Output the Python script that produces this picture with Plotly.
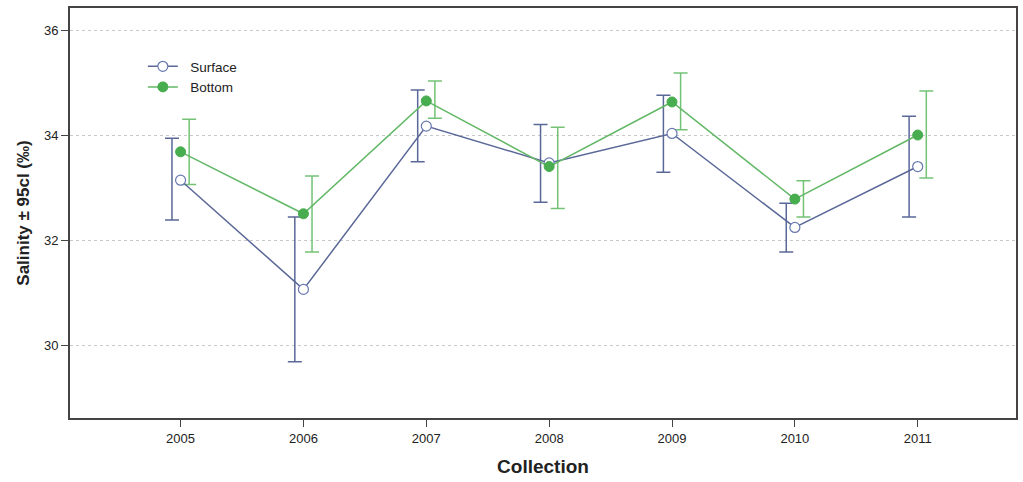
import plotly.graph_objects as go

years = [2005, 2006, 2007, 2008, 2009, 2010, 2011]
surface_mean = [33.14, 31.06, 34.17, 33.47, 34.03, 32.24, 33.40]
surface_hi = [33.94, 32.44, 34.86, 34.20, 34.76, 32.70, 34.36]
surface_lo = [32.38, 29.68, 33.49, 32.72, 33.29, 31.77, 32.44]
bottom_mean = [33.68, 32.50, 34.65, 33.40, 34.63, 32.78, 34.00]
bottom_hi = [34.30, 33.22, 35.03, 34.15, 35.18, 33.13, 34.84]
bottom_lo = [33.06, 31.77, 34.32, 32.60, 34.10, 32.44, 33.18]

S_COL = "#5a6898"
B_COL = "#47ad4f"
B_LINE = "#62b866"
B_ERR = "#74c275"
off = 0.07

fig = go.Figure()

def err_trace(xs, m, hi, lo, col):
    return go.Scatter(
        x=xs, y=m, mode="markers", marker=dict(size=1, opacity=0),
        showlegend=False, hoverinfo="skip",
        error_y=dict(type="data", symmetric=False,
                     array=[h - v for h, v in zip(hi, m)],
                     arrayminus=[v - l for v, l in zip(m, lo)],
                     color=col, thickness=1.5, width=7))

fig.add_trace(err_trace([y - off for y in years], surface_mean, surface_hi, surface_lo, S_COL))
fig.add_trace(err_trace([y + off for y in years], bottom_mean, bottom_hi, bottom_lo, B_ERR))

fig.add_trace(go.Scatter(
    x=years, y=surface_mean, mode="lines+markers", name="  Surface",
    line=dict(color=S_COL, width=1.5),
    marker=dict(symbol="circle", size=10, color="white",
                line=dict(color="#6878b0", width=1.2))))
fig.add_trace(go.Scatter(
    x=years, y=bottom_mean, mode="lines+markers", name="  Bottom",
    line=dict(color=B_LINE, width=1.5),
    marker=dict(symbol="circle", size=10, color=B_COL,
                line=dict(color=B_COL, width=1))))

fig.update_layout(
    width=1023, height=482,
    margin=dict(l=70, r=5, t=8, b=64),
    paper_bgcolor="white", plot_bgcolor="white",
    font=dict(family="Liberation Sans, Arial, sans-serif", size=13, color="#222"),
    showlegend=True,
    legend=dict(x=0.077, y=0.895, xanchor="left", yanchor="top",
                bgcolor="rgba(0,0,0,0)", font=dict(size=13.5, color="#222"),
                tracegroupgap=0),
)
fig.update_xaxes(
    range=[2004.10, 2011.80], tickmode="array", tickvals=years,
    ticktext=[str(y) for y in years],
    showgrid=False, zeroline=False,
    showline=True, linecolor="#444", linewidth=2, mirror=True,
    ticks="outside", ticklen=7, tickcolor="#444",
    tickfont=dict(size=13),
    title=dict(text="<b>Collection</b>", font=dict(size=19), standoff=15),
)
fig.update_yaxes(
    range=[28.61, 36.42], tickvals=[30, 32, 34, 36],
    showgrid=True, gridcolor="#c8c8c8", griddash="dot", gridwidth=1,
    zeroline=False,
    showline=True, linecolor="#444", linewidth=2, mirror=True,
    ticks="outside", ticklen=7, tickcolor="#444",
    tickfont=dict(size=13),
    title=dict(text="<b>Salinity ± 95cl (‰)</b>", font=dict(size=17), standoff=10),
)

fig.write_html("out.html")
